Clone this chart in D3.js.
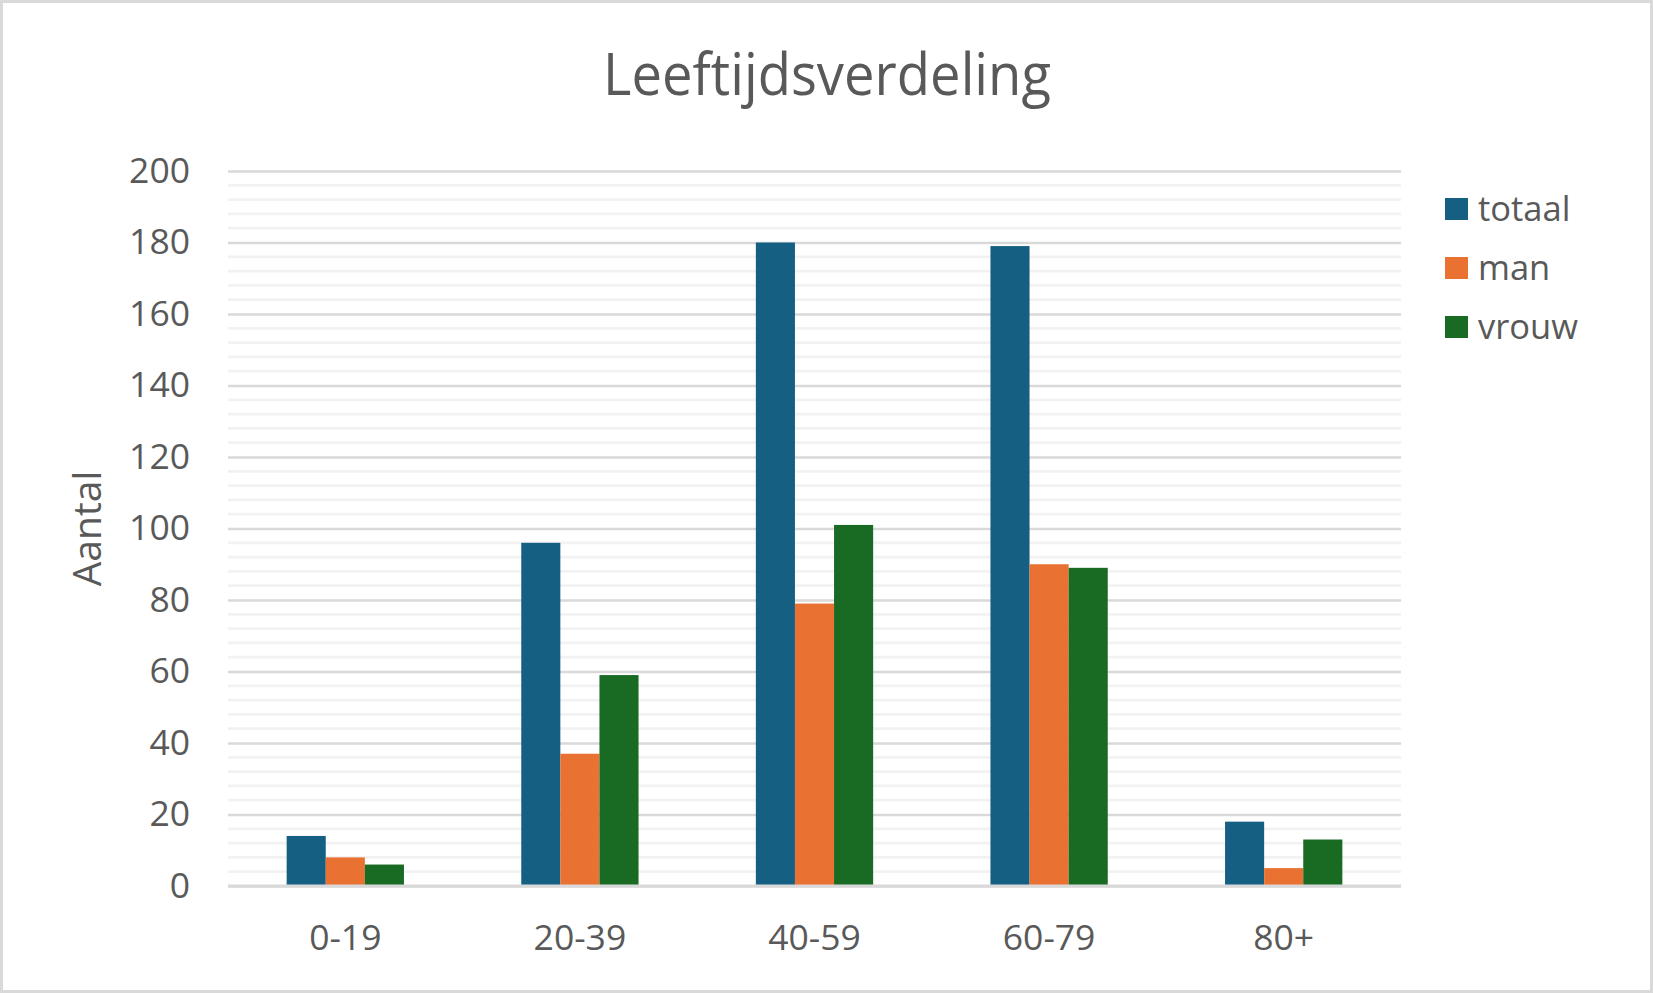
<!DOCTYPE html>
<html>
<head>
<meta charset="utf-8">
<script src="https://cdn.jsdelivr.net/npm/d3@7"></script>
<style>
  html, body { margin: 0; padding: 0; background: #fff; }
  text { font-family: "Open Sans", "Noto Sans", sans-serif; fill: #595959; }
</style>
</head>
<body>
<svg id="chart" width="1653" height="993"></svg>
<script>
const categories = ["0-19", "20-39", "40-59", "60-79", "80+"];
const seriesNames = ["totaal", "man", "vrouw"];
const totaal = [14, 96, 180, 179, 18];
const man = [8, 37, 79, 90, 5];
const vrouw = [6, 59, 101, 89, 13];
const seriesValues = [totaal, man, vrouw];
const colors = ["#156082", "#E97132", "#196B24"];
const yTicks = [0, 20, 40, 60, 80, 100, 120, 140, 160, 180, 200];
const title = "Leeftijdsverdeling";
const yTitle = "Aantal";

const W = 1653, H = 993;
const svg = d3.select("#chart");
const m = { left: 228, right: 1401, top: 171, bottom: 886 };

svg.append("rect").attr("x", 1.5).attr("y", 1.5).attr("width", W - 3).attr("height", H - 3)
  .attr("fill", "#fff").attr("stroke", "#D9D9D9").attr("stroke-width", 3);

const y = d3.scaleLinear().domain([0, 200]).range([m.bottom, m.top]);
const x0 = d3.scaleBand().domain(categories).range([m.left, m.right]).paddingInner(0.5).paddingOuter(0.25);
const x1 = d3.scaleBand().domain(seriesNames).range([0, x0.bandwidth()]);

// minor gridlines
const minor = d3.range(0, 201, 4).filter(v => v % 20 !== 0);
svg.append("g").selectAll("line").data(minor).join("line")
  .attr("x1", m.left).attr("x2", m.right)
  .attr("y1", d => y(d)).attr("y2", d => y(d))
  .attr("stroke", "#F2F2F2").attr("stroke-width", 2.7);

// y axis with major gridlines
const yAxis = d3.axisLeft(y).tickValues(yTicks).tickSize(-(m.right - m.left)).tickPadding(38);
const gy = svg.append("g").attr("transform", `translate(${m.left},0)`).call(yAxis);
gy.select(".domain").remove();
gy.selectAll(".tick line").attr("stroke", "#D9D9D9").attr("stroke-width", 2.7);
gy.selectAll(".tick text").attr("font-size", 35.5).attr("fill", "#595959")
  .attr("font-family", '"Open Sans", "Noto Sans", sans-serif');

// bars
const groups = svg.append("g").selectAll("g").data(categories).join("g")
  .attr("transform", d => `translate(${x0(d)},0)`);
groups.selectAll("rect").data((d, i) => seriesNames.map((s, j) => ({ s, v: seriesValues[j][i], j })))
  .join("rect")
  .attr("x", d => x1(d.s)).attr("width", x1.bandwidth())
  .attr("y", d => y(d.v)).attr("height", d => y(0) - y(d.v))
  .attr("fill", d => colors[d.j]);

// baseline
svg.append("line").attr("x1", m.left).attr("x2", m.right)
  .attr("y1", y(0)).attr("y2", y(0)).attr("stroke", "#D9D9D9").attr("stroke-width", 3);

// x axis
const xAxis = d3.axisBottom(x0).tickSize(0).tickPadding(39);
const gx = svg.append("g").attr("transform", `translate(0,${m.bottom})`).call(xAxis);
gx.select(".domain").remove();
gx.selectAll(".tick text").attr("font-size", 35.5).attr("fill", "#595959")
  .attr("font-family", '"Open Sans", "Noto Sans", sans-serif');

// title
svg.append("text").attr("x", 827).attr("y", 95).attr("text-anchor", "middle")
  .attr("font-size", 58).attr("textLength", 448).attr("lengthAdjust", "spacingAndGlyphs")
  .text(title);

// y title
svg.append("text").attr("transform", `translate(101,${(m.top + m.bottom) / 2}) rotate(-90)`)
  .attr("text-anchor", "middle").attr("font-size", 39).text(yTitle);

// legend
const lg = svg.append("g").selectAll("g").data(seriesNames).join("g")
  .attr("transform", (d, i) => `translate(1445,${198 + i * 59})`);
lg.append("rect").attr("width", 23).attr("height", 22).attr("fill", (d, i) => colors[i]);
lg.append("text").attr("x", 33).attr("y", 11).attr("dy", "0.35em")
  .attr("font-size", 34.5).text(d => d);
</script>
</body>
</html>
